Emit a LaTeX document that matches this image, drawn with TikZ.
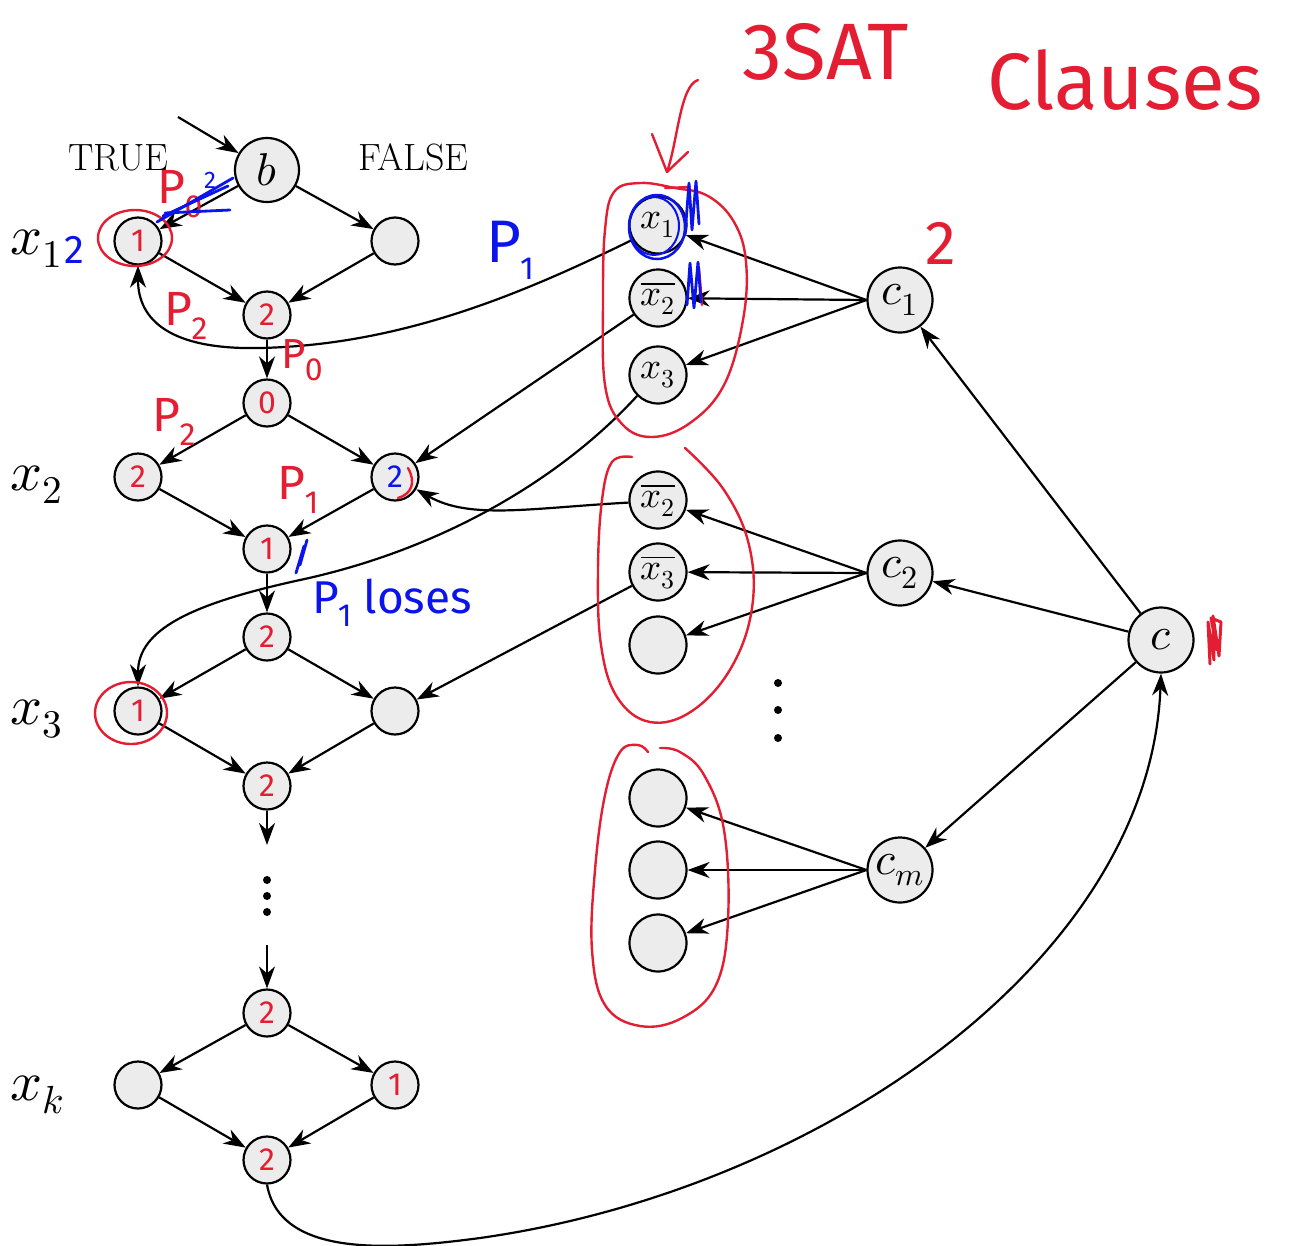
\documentclass[tikz,border=0pt]{standalone}
\usepackage{fontspec}
\usepackage{unicode-math}
\setmathfont{Latin Modern Math}
\newfontfamily\hand{Fira Sans}
\usetikzlibrary{arrows.meta}
\definecolor{nodegray}{RGB}{236,236,236}
\definecolor{annred}{RGB}{228,30,50}
\definecolor{annblue}{RGB}{10,20,235}
\newcommand\HP[1]{P\kern-1pt\raisebox{-0.28em}{\fontsize{32}{32}\selectfont#1}}
\begin{document}
\begin{tikzpicture}[x=1pt,y=-1pt,
  v/.style={circle,draw,line width=2.2pt,fill=nodegray,minimum size=47pt,inner sep=0pt,font=\hand\fontsize{32}{32}\selectfont},
  lit/.style={v,minimum size=57pt,font=\fontsize{37}{37}\selectfont},
  cls/.style={v,minimum size=65pt,font=\fontsize{46}{46}\selectfont},
  arr/.style={line width=2.2pt,-{Stealth[length=22pt,width=16pt,inset=7pt]}},
  rink/.style={annred,line width=2.4pt,line cap=round,line join=round},
  bink/.style={annblue,line width=2.8pt,line cap=round,line join=round},
  rtxt/.style={text=annred,font=\hand\fontsize{48}{48}\selectfont,inner sep=0pt},
  btxt/.style={text=annblue,font=\hand\fontsize{48}{48}\selectfont,inner sep=0pt},
  rowlab/.style={anchor=base west,font=\fontsize{56}{56}\selectfont,inner sep=0pt},
  head/.style={anchor=base west,font=\fontsize{38}{38}\selectfont,inner sep=0pt}
]
\useasboundingbox (0,0) rectangle (1306,1245);

% headings and row labels
\node[head] (true) at (68,170) {TRUE};
\node[head] (false) at (358,170) {FALSE};
\node[rowlab] (lx1) at (10,254) {$x_1$};
\node[rowlab] (lx2) at (10,490) {$x_2$};
\node[rowlab] (lx3) at (10,724) {$x_3$};
\node[rowlab] (lxk) at (10,1100) {$x_k$};

% variable gadgets
\node[v,minimum size=64pt,font=\fontsize{46}{46}\selectfont] (b) at (267,170) {$b$};
\node[v,text=annred] (x1t) at (138,241) {1};
\node[v] (x1f) at (395,241) {};
\node[v,text=annred] (x1b) at (267,315) {2};
\node[v,text=annred] (x2a) at (267,403) {0};
\node[v,text=annred] (x2t) at (138,477) {2};
\node[v,text=annblue] (x2f) at (395,477) {2};
\node[v,text=annred] (x2b) at (267,549) {1};
\node[v,text=annred] (x3a) at (267,637) {2};
\node[v,text=annred] (x3t) at (138,711) {1};
\node[v] (x3f) at (395,711) {};
\node[v,text=annred] (x3b) at (267,786) {2};
\node[v,text=annred] (xka) at (267,1013) {2};
\node[v] (xkt) at (138,1085) {};
\node[v,text=annred] (xkf) at (395,1085) {1};
\node[v,text=annred] (xkb) at (267,1160) {2};
\coordinate (start) at (178,117);
\coordinate (d1) at (267,845);
\coordinate (d2) at (267,945);

% clause literals
\node[lit] (l11) at (658,225) {$x_1$};
\node[lit] (l12) at (658,298) {$\overline{x_2}$};
\node[lit] (l13) at (658,375) {$x_3$};
\node[lit] (l21) at (658,500) {$\overline{x_2}$};
\node[lit] (l22) at (658,572) {$\overline{x_3}$};
\node[lit] (l23) at (658,645) {};
\node[lit] (lm1) at (658,798) {};
\node[lit] (lm2) at (658,870) {};
\node[lit] (lm3) at (658,943) {};

% clause nodes
\node[cls] (c1) at (900,300) {$c_1$};
\node[cls] (c2) at (900,573) {$c_2$};
\node[cls] (cm) at (900,870) {$c_m$};
\node[cls] (c) at (1161,640) {$c$};

% dots
\foreach \yy in {880,896,912} \fill (267,\yy) circle[radius=4pt];
\foreach \yy in {683,710,738} \fill (778,\yy) circle[radius=4pt];

% gadget edges
\draw[arr] (start) -- (b);
\foreach \p/\q in {b/x1t,b/x1f,x1t/x1b,x1f/x1b,x1b/x2a,x2a/x2t,x2a/x2f,x2t/x2b,x2f/x2b,x2b/x3a,x3a/x3t,x3a/x3f,x3t/x3b,x3f/x3b,x3b/d1,d2/xka,xka/xkt,xka/xkf,xkt/xkb,xkf/xkb}
  \draw[arr] (\p) -- (\q);

% clause edges
\foreach \t in {l11,l12,l13} \draw[arr] (c1.west) -- (\t);
\foreach \t in {l21,l22,l23} \draw[arr] (c2.west) -- (\t);
\foreach \t in {lm1,lm2,lm3} \draw[arr] (cm.west) -- (\t);
\draw[arr] (c) -- (c1);
\draw[arr] (c) -- (c2);
\draw[arr] (c) -- (cm);

% literal -> gadget edges
\draw[arr] (l11.210) .. controls (520,295) and (400,345) .. (260,348)
  .. controls (170,350) and (138,320) .. (x1t.south);
\draw[arr] (l12) -- (x2f);
\draw[arr] (l13.225) .. controls (560,480) and (440,550) .. (300,580)
  .. controls (190,604) and (138,630) .. (x3t.north);
\draw[arr] (l21.185) .. controls (530,508) and (470,520) .. (x2f.-30);
\draw[arr] (l22) -- (x3f);
\draw[arr] (xkb.south) .. controls (280,1258) and (390,1250) .. (480,1238)
  .. controls (820,1190) and (1150,960) .. (c.south);

% ---- handwritten annotations ----
\node[rtxt,font=\hand\fontsize{80}{80}\selectfont] (sat) at (826,52) {3SAT};
\node[rtxt,font=\hand\fontsize{80}{80}\selectfont] (claus) at (1125,80) {Clauses};
\draw[rink] (698,80) .. controls (680,86) and (678,140) .. (667,172);
\draw[rink] (652,134) -- (667,172) -- (688,152);

\draw[rink] plot[smooth cycle,tension=0.65] coordinates {(640,183) (614,192) (605,230) (603,300) (605,385) (622,424) (652,437) (690,423) (724,385) (743,320) (746,262) (734,222) (708,196) (675,188)};
\draw[rink] plot[smooth,tension=0.65] coordinates {(632,457) (612,462) (602,500) (598,570) (601,645) (617,697) (650,722) (692,711) (731,668) (752,608) (749,545) (724,490) (685,448)};
\draw[rink] plot[smooth,tension=0.65] coordinates {(648,752) (638,745) (620,752) (605,795) (595,870) (592,950) (605,1005) (640,1026) (682,1018) (716,985) (728,920) (724,830) (704,775) (680,752) (660,748)};

\draw[rink] (135,238) ellipse[x radius=37pt,y radius=28pt];
\draw[rink] (131,713) ellipse[x radius=36pt,y radius=31pt];
\draw[rink] (408,468) .. controls (416,482) and (412,494) .. (398,498);

\node[rtxt,font=\hand\fontsize{62}{62}\selectfont] (two) at (941,243) {2};
\draw[rink,line width=3pt] (1210,664) -- (1208,622) -- (1214,660) -- (1213,616) -- (1219,656) -- (1221,622) -- (1211,618) -- (1217,650);
\node[rtxt] (p0a) at (180,194) {\HP{0}};
\node[rtxt] (p2a) at (186,316) {\HP{2}};
\node[rtxt,font=\hand\fontsize{42}{42}\selectfont] (p0b) at (302,360) {\HP{0}};
\node[rtxt] (p2b) at (174,422) {\HP{2}};
\node[rtxt] (p1a) at (298,490) {\HP{1}};
\draw[rink] (699,268) -- (702,305);
\draw[rink] (665,188) -- (690,187);

\node[btxt,font=\hand\fontsize{60}{60}\selectfont] (p1b) at (510,250) {\HP{1}};
\node[btxt,font=\hand\fontsize{46}{46}\selectfont] (lose) at (392,603) {\HP{1} loses};
\node[btxt,font=\hand\fontsize{40}{40}\selectfont] (b2) at (74,250) {2};
\node[btxt,font=\hand\fontsize{24}{24}\selectfont] (b2b) at (210,180) {2};
\draw[bink,line width=2.5pt] (657,227) ellipse[x radius=28pt,y radius=32pt];
\draw[bink,line width=2pt] (654,226) ellipse[x radius=25pt,y radius=29pt];
\draw[bink] (157,222) -- (233,178);
\draw[bink] (163,216) -- (228,186);
\draw[bink] (165,213) -- (230,210);
\draw[bink] (685,235) -- (689,183) -- (692,230) -- (696,181) -- (699,224);
\draw[bink] (687,305) -- (690,263) -- (694,308) -- (698,262) -- (701,302);
\draw[bink] (296,573) -- (304,546) -- (300,565) -- (307,540);
\end{tikzpicture}
\end{document}
